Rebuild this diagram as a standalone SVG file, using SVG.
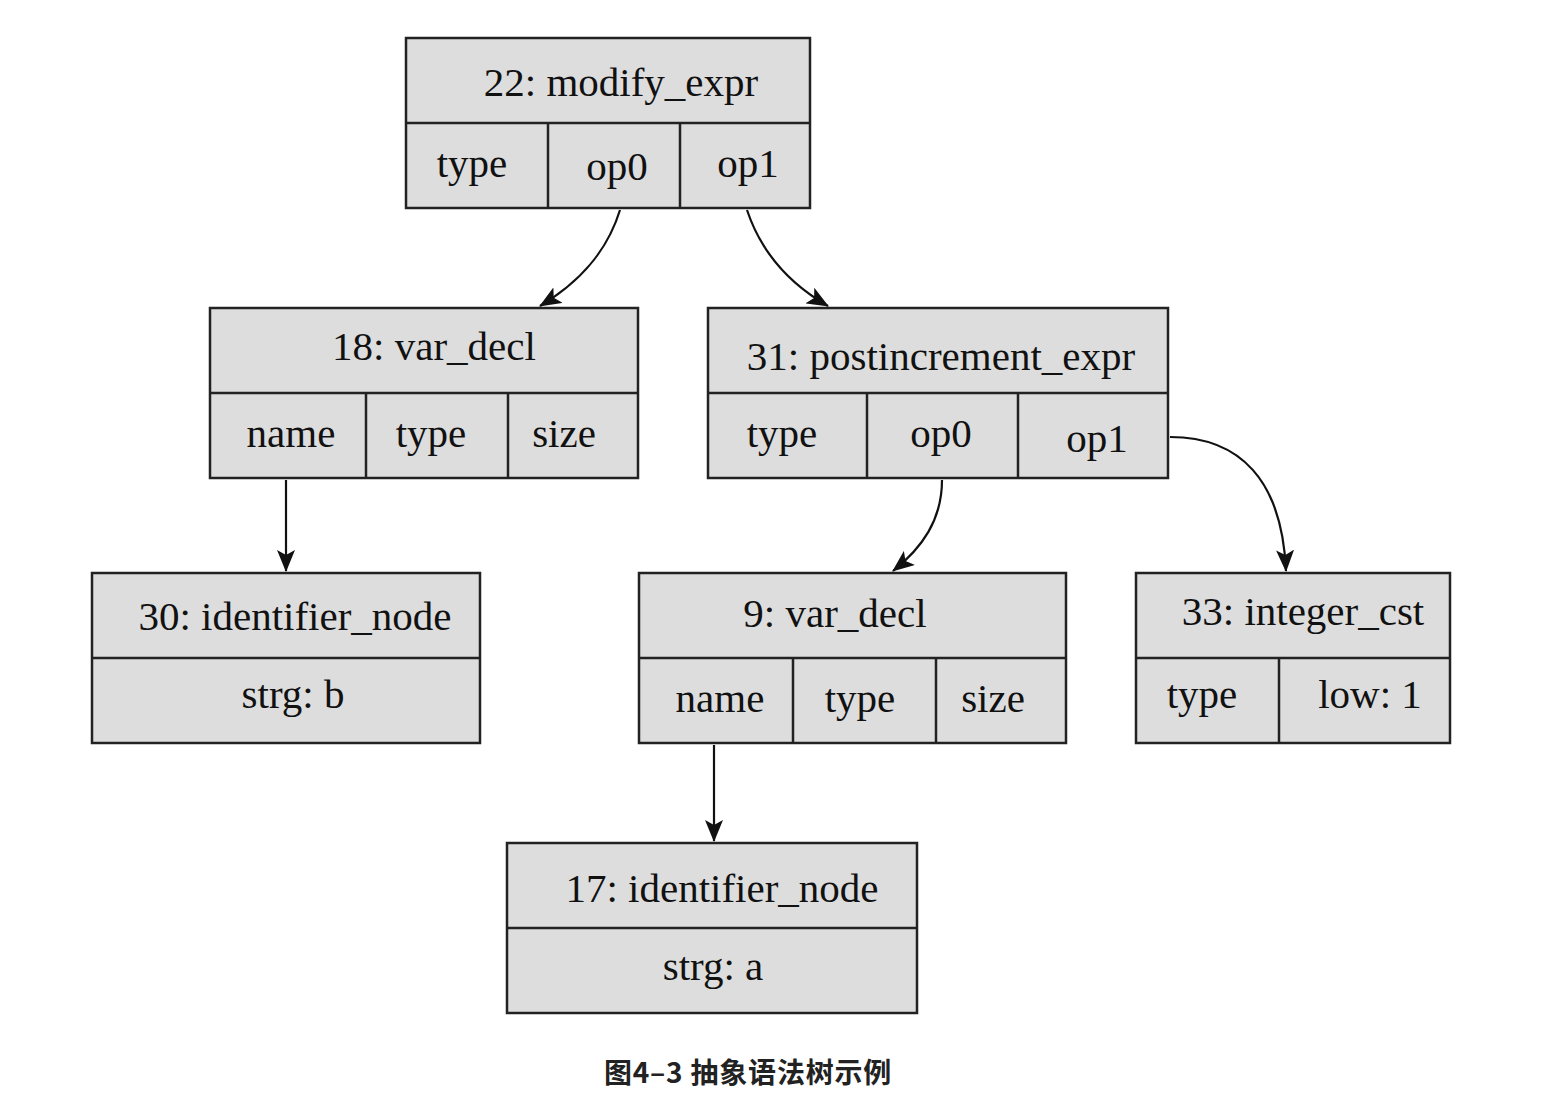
<svg xmlns="http://www.w3.org/2000/svg" width="1550" height="1104" viewBox="0 0 1550 1104">
<defs>
<style>
.box{fill:#dddddd;stroke:#222;stroke-width:2.5}
.ln{stroke:#222;stroke-width:2.5;fill:none}
.t{font-family:"Liberation Serif","Times New Roman",serif;font-size:41px;fill:#111;text-anchor:middle}
.edge{stroke:#111;stroke-width:2.2;fill:none;marker-end:url(#ah)}
.cap{font-family:"Noto Sans CJK SC","Noto Sans",sans-serif;font-size:28px;font-weight:bold;fill:#222;text-anchor:middle;letter-spacing:0.8px}
</style>
<marker id="ah" markerUnits="userSpaceOnUse" markerWidth="22" markerHeight="18" viewBox="0 0 22 18" refX="21" refY="9" orient="auto">
<path d="M0,0 L22,9 L0,18 L5,9 Z" fill="#111"/>
</marker>
</defs>
<rect width="1550" height="1104" fill="#fff"/>
<g id="n22">
<rect class="box" x="406" y="38" width="404" height="170"/>
<line class="ln" x1="406" y1="123" x2="810" y2="123"/>
<line class="ln" x1="548" y1="123" x2="548" y2="208"/>
<line class="ln" x1="680" y1="123" x2="680" y2="208"/>
<text class="t" x="621" y="96">22: modify_expr</text>
<text class="t" x="472" y="177">type</text>
<text class="t" x="617" y="180">op0</text>
<text class="t" x="748" y="177">op1</text>
</g>
<g id="n18">
<rect class="box" x="210" y="308" width="428" height="170"/>
<line class="ln" x1="210" y1="393" x2="638" y2="393"/>
<line class="ln" x1="366" y1="393" x2="366" y2="478"/>
<line class="ln" x1="508" y1="393" x2="508" y2="478"/>
<text class="t" x="434" y="360">18: var_decl</text>
<text class="t" x="291" y="447">name</text>
<text class="t" x="431" y="447">type</text>
<text class="t" x="564" y="447">size</text>
</g>
<g id="n31">
<rect class="box" x="708" y="308" width="460" height="170"/>
<line class="ln" x1="708" y1="393" x2="1168" y2="393"/>
<line class="ln" x1="867" y1="393" x2="867" y2="478"/>
<line class="ln" x1="1018" y1="393" x2="1018" y2="478"/>
<text class="t" x="941" y="370">31: postincrement_expr</text>
<text class="t" x="782" y="447">type</text>
<text class="t" x="941" y="447">op0</text>
<text class="t" x="1097" y="452">op1</text>
</g>
<g id="n30">
<rect class="box" x="92" y="573" width="388" height="170"/>
<line class="ln" x1="92" y1="658" x2="480" y2="658"/>
<text class="t" x="295" y="630">30: identifier_node</text>
<text class="t" x="293" y="708">strg: b</text>
</g>
<g id="n9">
<rect class="box" x="639" y="573" width="427" height="170"/>
<line class="ln" x1="639" y1="658" x2="1066" y2="658"/>
<line class="ln" x1="793" y1="658" x2="793" y2="743"/>
<line class="ln" x1="936" y1="658" x2="936" y2="743"/>
<text class="t" x="835" y="627">9: var_decl</text>
<text class="t" x="720" y="712">name</text>
<text class="t" x="860" y="712">type</text>
<text class="t" x="993" y="712">size</text>
</g>
<g id="n33">
<rect class="box" x="1136" y="573" width="314" height="170"/>
<line class="ln" x1="1136" y1="658" x2="1450" y2="658"/>
<line class="ln" x1="1279" y1="658" x2="1279" y2="743"/>
<text class="t" x="1303" y="625">33: integer_cst</text>
<text class="t" x="1202" y="708">type</text>
<text class="t" x="1370" y="708">low: 1</text>
</g>
<g id="n17">
<rect class="box" x="507" y="843" width="410" height="170"/>
<line class="ln" x1="507" y1="928" x2="917" y2="928"/>
<text class="t" x="722" y="902">17: identifier_node</text>
<text class="t" x="713" y="980">strg: a</text>
</g>
<g id="edges">
<path class="edge" d="M620,210 C607,252 580,282 540,306"/>
<path class="edge" d="M747,210 C761,252 788,283 828,306"/>
<path class="edge" d="M286,480 L286,571"/>
<path class="edge" d="M942,480 C942,520 922,548 893,571"/>
<path class="edge" d="M1170,437 C1240,437 1282,480 1286,571"/>
<path class="edge" d="M714,745 L714,841"/>
</g>
<text class="cap" x="748" y="1083">图4–3 抽象语法树示例</text>
</svg>
